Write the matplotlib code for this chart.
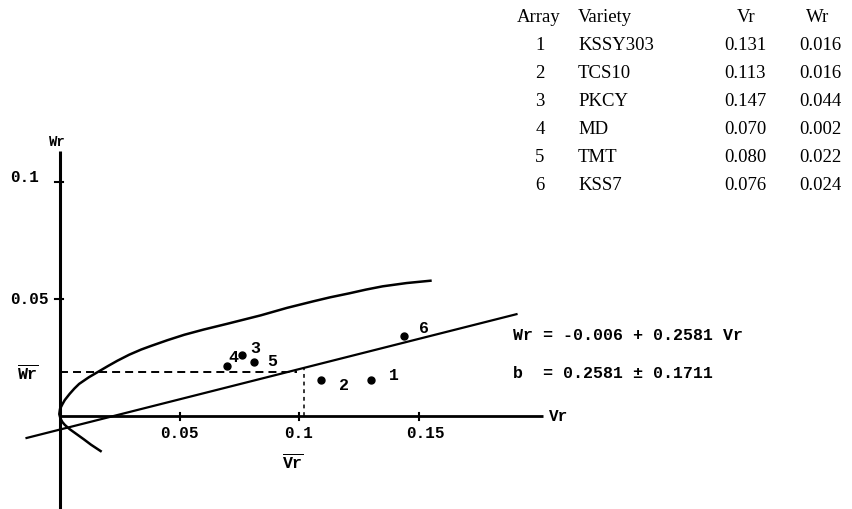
import matplotlib
matplotlib.use("Agg")
import matplotlib.pyplot as plt

plt.rcParams['mathtext.fontset'] = 'custom'
plt.rcParams['mathtext.tt'] = 'Liberation Mono:bold'

# Vr-Wr graph data
arrays = ['1', '2', '3', '4', '5', '6']
vr_points = [0.130, 0.109, 0.076, 0.070, 0.081, 0.144]
wr_points = [0.015, 0.015, 0.026, 0.021, 0.023, 0.034]

# regression Wr = a + b Vr
reg_a = -0.006
reg_b = 0.2581
reg_vr = [-0.014, 0.191]

# limiting parabola (lower branch then upper branch)
parab_vr = [0.017, 0.013, 0.010, 0.007, 0.004, 0.002, 0.001, 0.0002, -0.0003,
            0.0, 0.001, 0.002, 0.004, 0.006, 0.008, 0.012, 0.016, 0.020,
            0.024, 0.029, 0.034, 0.038, 0.045, 0.052, 0.060, 0.070, 0.077,
            0.084, 0.095, 0.106, 0.113, 0.121, 0.128, 0.135, 0.145, 0.155]
parab_wr = [-0.0152, -0.0125, -0.0102, -0.0080, -0.0058, -0.0040, -0.0028,
            -0.0013, 0.0006, 0.0028, 0.0048, 0.0066, 0.0092, 0.0115, 0.0135,
            0.0163, 0.0187, 0.0211, 0.0234, 0.0260, 0.0282, 0.0297, 0.0322,
            0.0345, 0.0367, 0.0392, 0.0410, 0.0428, 0.0460, 0.0488, 0.0505,
            0.0522, 0.0538, 0.0552, 0.0566, 0.0576]

vr_mean = 0.102
wr_mean = 0.0185

x_ticks = [0.05, 0.1, 0.15]
x_tick_labels = ['0.05', '0.1', '0.15']
y_ticks = [0.05, 0.1]
y_tick_labels = ['0.05', '0.1']

# table in the upper right
tbl_header = ['Array', 'Variety', 'Vr', 'Wr']
tbl_array = ['1', '2', '3', '4', '5', '6']
tbl_variety = ['KSSY303', 'TCS10', 'PKCY', 'MD', 'TMT', 'KSS7']
tbl_vr = ['0.131', '0.113', '0.147', '0.070', '0.080', '0.076']
tbl_wr = ['0.016', '0.016', '0.044', '0.002', '0.022', '0.024']

# layout (pixels of the 853x510 picture)
W, H = 853, 510
x0, y0 = 60, 416.5
sx, sy = 2390.0, 2340.0

fig = plt.figure(figsize=(W / 100, H / 100), dpi=100)
ax = fig.add_axes([0, 0, 1, 1])
ax.set_xlim(-x0 / sx, (W - x0) / sx)
ax.set_ylim(-(H - y0) / sy, y0 / sy)
ax.axis('off')

mono = dict(family=['Liberation Mono', 'DejaVu Sans Mono'], weight='bold', color='black')
serif = dict(family=['Liberation Serif', 'DejaVu Serif'], size=13.5, color='black')

# axes
ax.plot([0, 0], [-(H - y0) / sy, 0.113], color='black', lw=2.2, solid_capstyle='butt')
ax.plot([0, 0.202], [0, 0], color='black', lw=2.0, solid_capstyle='butt')
for t, lab in zip(y_ticks, y_tick_labels):
    ax.plot([-0.0022, 0.0012], [t, t], color='black', lw=1.5)
    ax.text(10 / sx - x0 / sx, t + (0.002 if t == 0.1 else 0), lab, ha='left', va='center', size=11.5, **mono)
for t, lab in zip(x_ticks, x_tick_labels):
    ax.plot([t, t], [-0.002, 0.0012], color='black', lw=1.5)
    ax.text(t + (0.003 if t == 0.15 else 0), -0.0072, lab, ha='center', va='center', size=11.5, **mono)
ax.text(-0.0013, 0.1175, 'Wr', ha='center', va='center', size=10, **mono)
ax.text(0.2085, 0.0, 'Vr', ha='center', va='center', size=11.5, **mono)
ax.text(-0.0135, 0.0185, r'$\overline{\mathtt{Wr}}$', ha='center', va='center', size=12, color='black')
ax.text(0.0975, -0.0195, r'$\overline{\mathtt{Vr}}$', ha='center', va='center', size=12, color='black')

# parabola and regression line
ax.plot(parab_vr, parab_wr, color='black', lw=1.8, solid_joinstyle='round')
ax.plot(reg_vr, [reg_a + reg_b * v for v in reg_vr], color='black', lw=1.6)

# means
ax.plot([0, vr_mean - 0.003], [wr_mean, wr_mean], color='black', lw=1.4, dashes=(4.1, 2.6))
ax.plot([vr_mean, vr_mean], [0, reg_a + reg_b * vr_mean], color='black', lw=1.1, dashes=(2.5, 2.5))

# points
ax.plot(vr_points, wr_points, 'o', color='black', ms=5)
offsets = [(13, 4), (13, -3), (6, 5), (1, 7), (10, 1), (11, 6)]
for lab, v, w, off in zip(arrays, vr_points, wr_points, offsets):
    ax.annotate(lab, (v, w), xytext=off, textcoords='offset points',
                ha='left', va='center', size=12, **mono)

# regression text
ax.text((513 - x0) / sx, (y0 - 335) / sy, 'Wr = -0.006 + 0.2581 Vr', ha='left', va='center', size=12, **mono)
ax.text((513 - x0) / sx, (y0 - 374) / sy, 'b  = 0.2581 \u00b1 0.1711', ha='left', va='center', size=12, **mono)

# table
def fpos(px, py):
    return px / W, 1 - py / H

row0, step = 18, 28
fig.text(*fpos(539, row0), tbl_header[0], ha='center', va='center', **serif)
fig.text(*fpos(578, row0), tbl_header[1], ha='left', va='center', **serif)
fig.text(*fpos(746, row0), tbl_header[2], ha='center', va='center', **serif)
fig.text(*fpos(818, row0), tbl_header[3], ha='center', va='center', **serif)
for i in range(len(tbl_array)):
    yy = row0 + step * (i + 1)
    fig.text(*fpos(540, yy), tbl_array[i], ha='center', va='center', **serif)
    fig.text(*fpos(578, yy), tbl_variety[i], ha='left', va='center', **serif)
    fig.text(*fpos(745, yy), tbl_vr[i], ha='center', va='center', **serif)
    fig.text(*fpos(820, yy), tbl_wr[i], ha='center', va='center', **serif)

fig.savefig('out.png', dpi=100)
